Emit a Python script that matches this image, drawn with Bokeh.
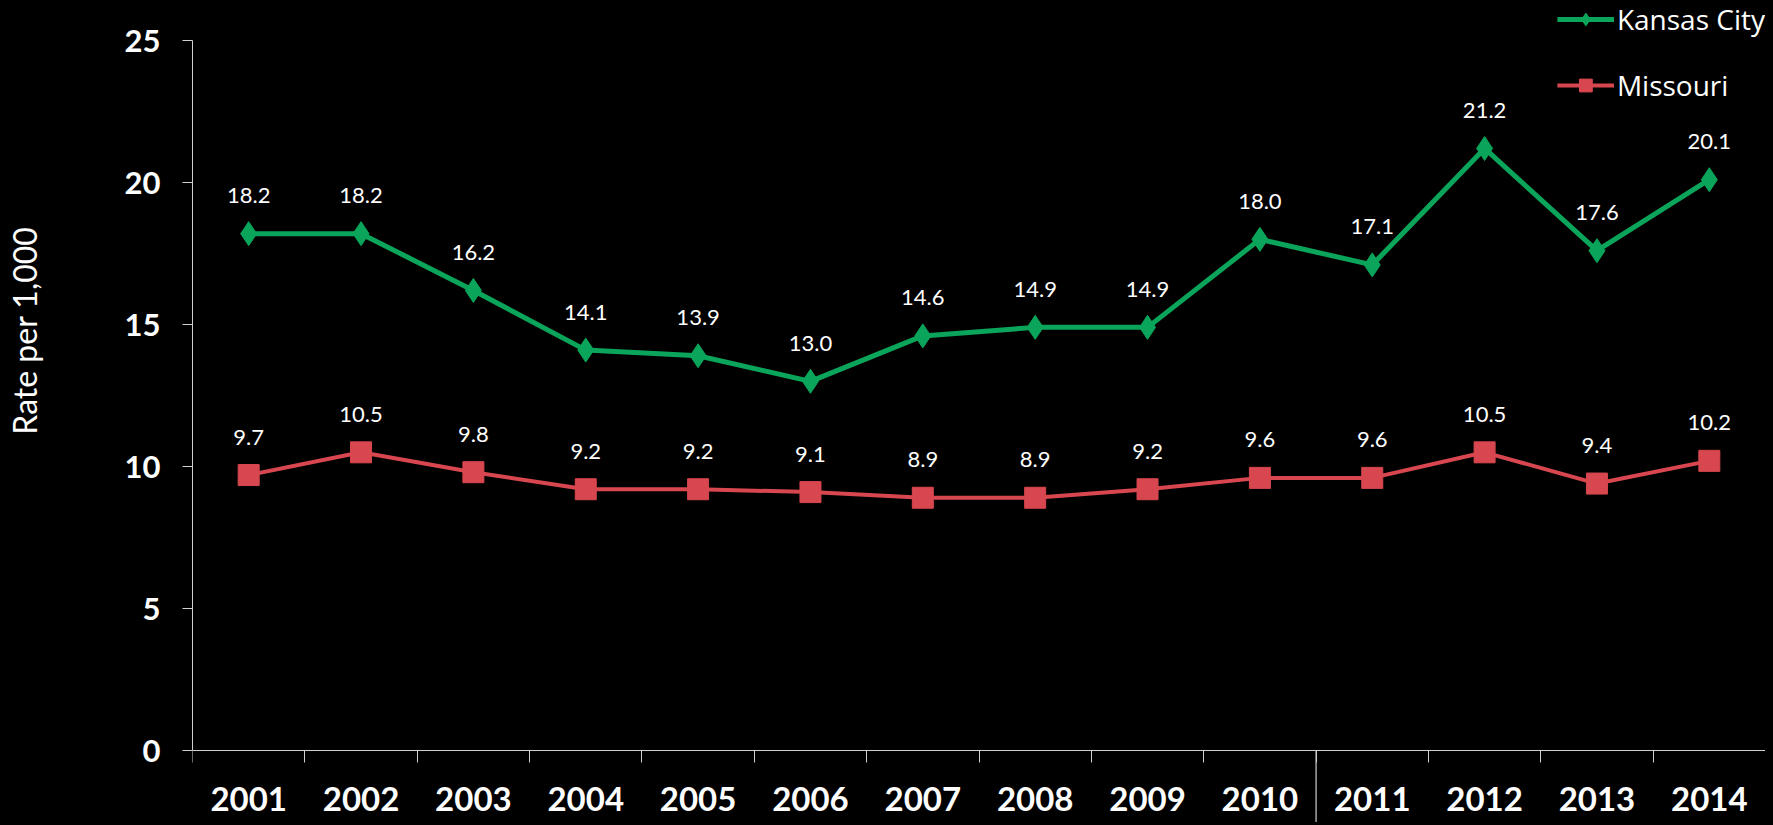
from bokeh.plotting import figure
from bokeh.models import (Range1d, LinearAxis, FixedTicker, Legend, LegendItem,
                          ColumnDataSource, Title)
from bokeh.core.properties import value
from bokeh.embed import file_html
from bokeh.resources import INLINE

# ---- data ----
years = ["2001", "2002", "2003", "2004", "2005", "2006", "2007",
         "2008", "2009", "2010", "2011", "2012", "2013", "2014"]
kansas_city = [18.2, 18.2, 16.2, 14.1, 13.9, 13.0, 14.6,
               14.9, 14.9, 18.0, 17.1, 21.2, 17.6, 20.1]
missouri = [9.7, 10.5, 9.8, 9.2, 9.2, 9.1, 8.9,
            8.9, 9.2, 9.6, 9.6, 10.5, 9.4, 10.2]
y_ticks = [0, 5, 10, 15, 20, 25]
y_label = "Rate per 1,000"
series_names = ["Kansas City", "Missouri"]
divider_after = "2010"

# ---- style ----
GREEN = "#0AA55A"
RED = "#D8474F"
AXIS = "#D0D0D0"
FONT = "Lato"

n = len(years)
xs = [i + 0.5 for i in range(n)]

p = figure(width=1765, height=822, output_backend="svg", toolbar_location=None,
           x_range=Range1d(0, n), y_range=Range1d(-2.535, 26.41),
           x_axis_location=None, y_axis_location=None,
           min_border_left=192, min_border_right=0,
           min_border_top=0, min_border_bottom=0)
p.background_fill_color = "black"
p.border_fill_color = "black"
p.outline_line_color = None
p.xgrid.visible = False
p.ygrid.visible = False

# y axis with ticks
yax = LinearAxis(ticker=FixedTicker(ticks=y_ticks), bounds=(y_ticks[0], y_ticks[-1]))
yax.axis_line_color = AXIS
yax.major_tick_line_color = AXIS
yax.major_tick_out = 10
yax.major_tick_in = 0
yax.minor_tick_line_color = None
yax.major_label_text_color = "white"
yax.major_label_text_font = FONT
yax.major_label_text_font_style = "bold"
yax.major_label_text_font_size = "31px"
yax.major_label_standoff = 22
p.add_layout(yax, "left")

# invisible spacer axis that pushes the title to the far left
mid = y_ticks[len(y_ticks) // 2]
spacer = LinearAxis(ticker=FixedTicker(ticks=[mid]))
spacer.major_label_overrides = {mid: ""}
spacer.axis_line_color = None
spacer.major_tick_line_alpha = 0
spacer.major_tick_out = 78
spacer.major_tick_in = 0
spacer.minor_tick_line_color = None
spacer.minor_tick_out = 0
spacer.major_label_standoff = 0
spacer.major_label_text_alpha = 0
spacer.major_label_text_font_size = "1px"
p.add_layout(spacer, "left")

# y title, placed like the reference (top of text near y=228)
ttl = Title(text=y_label, align="right", offset=226)
ttl.text_color = "white"
ttl.text_font = FONT
ttl.text_font_style = "normal"
ttl.text_font_size = "32px"
ttl.standoff = 0
p.add_layout(ttl, "left")

# x axis at y=0, ticks between categories
xax = LinearAxis(ticker=FixedTicker(ticks=xs, minor_ticks=list(range(n + 1))),
                 fixed_location=0)
xax.major_label_overrides = {x: y for x, y in zip(xs, years)}
xax.axis_line_color = AXIS
xax.major_tick_line_color = None
xax.major_tick_out = 0
xax.major_tick_in = 0
xax.minor_tick_line_color = AXIS
xax.minor_tick_out = 12
xax.minor_tick_in = 0
xax.major_label_text_color = "white"
xax.major_label_text_font = FONT
xax.major_label_text_font_style = "bold"
xax.major_label_text_font_size = "33px"
xax.major_label_standoff = 24
p.add_layout(xax, "below")

# divider between 2010 and 2011
bx = years.index(divider_after) + 1
p.segment(x0=[bx], y0=[0], x1=[bx], y1=[p.y_range.start], line_color=AXIS, line_width=1.2)

# series
kc_src = ColumnDataSource(dict(x=xs, y=kansas_city, t=[f"{v:.1f}" for v in kansas_city]))
mo_src = ColumnDataSource(dict(x=xs, y=missouri, t=[f"{v:.1f}" for v in missouri]))

kc_line = p.line("x", "y", source=kc_src, line_color=GREEN, line_width=5)
kc_mark = p.scatter("x", "y", source=kc_src, marker="diamond", size=24,
                    fill_color=GREEN, line_color=GREEN)
mo_line = p.line("x", "y", source=mo_src, line_color=RED, line_width=4)
mo_mark = p.scatter("x", "y", source=mo_src, marker="square", size=21,
                    fill_color=RED, line_color=RED)

for src in (kc_src, mo_src):
    p.text("x", "y", text="t", source=src, y_offset=-38,
           text_align="center", text_baseline="middle",
           text_color="white", text_font=value(FONT), text_font_size="22px")

legend = Legend(items=[LegendItem(label=series_names[0], renderers=[kc_line, kc_mark]),
                       LegendItem(label=series_names[1], renderers=[mo_line, mo_mark])],
                location="top_right")
legend.background_fill_alpha = 0
legend.border_line_color = None
legend.label_text_color = "white"
legend.label_text_font = "Open Sans"
legend.label_text_font_size = "28px"
legend.glyph_width = 57
legend.glyph_height = 32
legend.label_height = 32
legend.spacing = 28
legend.padding = 0
legend.margin = 0
legend.label_standoff = 3
p.add_layout(legend)

html = file_html(p, INLINE)
html = html.replace("<body>", '<body style="background-color:#000000;">')
open("out.html", "w").write(html)
